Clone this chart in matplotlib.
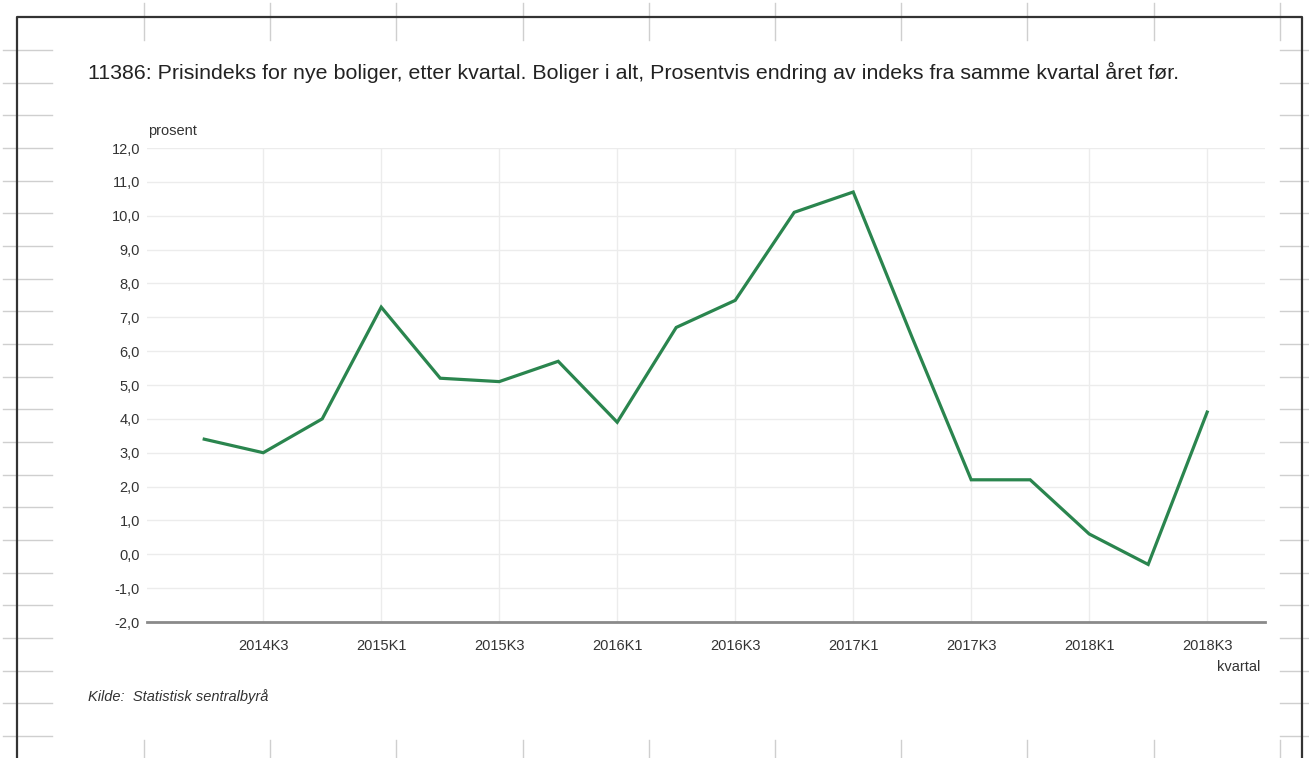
import numpy as np
import matplotlib
matplotlib.use('Agg')
import matplotlib.pyplot as plt

plt.rcParams['font.family'] = ['Liberation Sans', 'DejaVu Sans']

# data (prosentvis endring fra samme kvartal året før)
kvartal = ['2014K2', '2014K3', '2014K4', '2015K1', '2015K2', '2015K3', '2015K4',
           '2016K1', '2016K2', '2016K3', '2016K4', '2017K1', '2017K2', '2017K3',
           '2017K4', '2018K1', '2018K2', '2018K3']
endring = [3.4, 3.0, 4.0, 7.3, 5.2, 5.1, 5.7, 3.9, 6.7, 7.5, 10.1, 10.7, 6.4,
           2.2, 2.2, 0.6, -0.3, 4.2]
y_ticks = list(range(-2, 13))

W, H = 1309, 758
fig = plt.figure(figsize=(W / 100, H / 100), dpi=100, facecolor='white')

# background: spreadsheet grid + frame (pixel coords)
bg = fig.add_axes([0, 0, 1, 1])
bg.set_xlim(0, W)
bg.set_ylim(H, 0)
bg.axis('off')
grid_c = '#cfcfcf'
for yy in np.arange(50, 740, 32.67):
    bg.plot([3, 52], [yy, yy], color=grid_c, lw=1)
    bg.plot([1280, 1309], [yy, yy], color=grid_c, lw=1)
for xx in np.arange(144, 1290, 126.2):
    bg.plot([xx, xx], [3, 40], color=grid_c, lw=1)
    bg.plot([xx, xx], [740, 758], color=grid_c, lw=1)
bg.plot([17, 17, 1302, 1302], [758, 17, 17, 758], color='#333333', lw=1.6)

# chart
ax = fig.add_axes([147 / W, 1 - 622 / H, (1265 - 147) / W, (622 - 148) / H])
x = np.arange(len(kvartal))
ax.plot(x, endring, color='#2a854e', lw=2.3, solid_joinstyle='miter', zorder=3)

ax.set_xlim(-0.97, 17.98)
ax.set_ylim(-2, 12)
ax.set_yticks(y_ticks)
ax.set_yticklabels([f'{v:.1f}'.replace('.', ',') for v in y_ticks])
tick_idx = x[1::2]
ax.set_xticks(tick_idx)
ax.set_xticklabels([kvartal[i] for i in tick_idx])

ax.grid(True, color='#ececec', lw=1)
ax.set_axisbelow(True)
for s in ['top', 'right', 'left']:
    ax.spines[s].set_visible(False)
ax.spines['bottom'].set_color('#8a8a8a')
ax.spines['bottom'].set_linewidth(2)
ax.tick_params(axis='both', length=0, labelsize=10.5, labelcolor='#333333')
ax.tick_params(axis='x', pad=12)
ax.tick_params(axis='y', pad=5)
ax.set_facecolor('white')

fig.text(88 / W, 1 - 72 / H, '11386: Prisindeks for nye boliger, etter kvartal. Boliger i alt, '
         'Prosentvis endring av indeks fra samme kvartal året før.',
         fontsize=15.4, color='#222222', va='center', ha='left')
fig.text(148 / W, 1 - 131 / H, 'prosent', fontsize=10.5, color='#333333', va='center')
fig.text(1260 / W, 1 - 667 / H, 'kvartal', fontsize=10.5, color='#333333', va='center', ha='right')
fig.text(88 / W, 1 - 697 / H, 'Kilde:  Statistisk sentralbyrå', fontsize=10.5, style='italic',
         color='#333333', va='center')

plt.savefig('out.png', dpi=100, facecolor='white')
